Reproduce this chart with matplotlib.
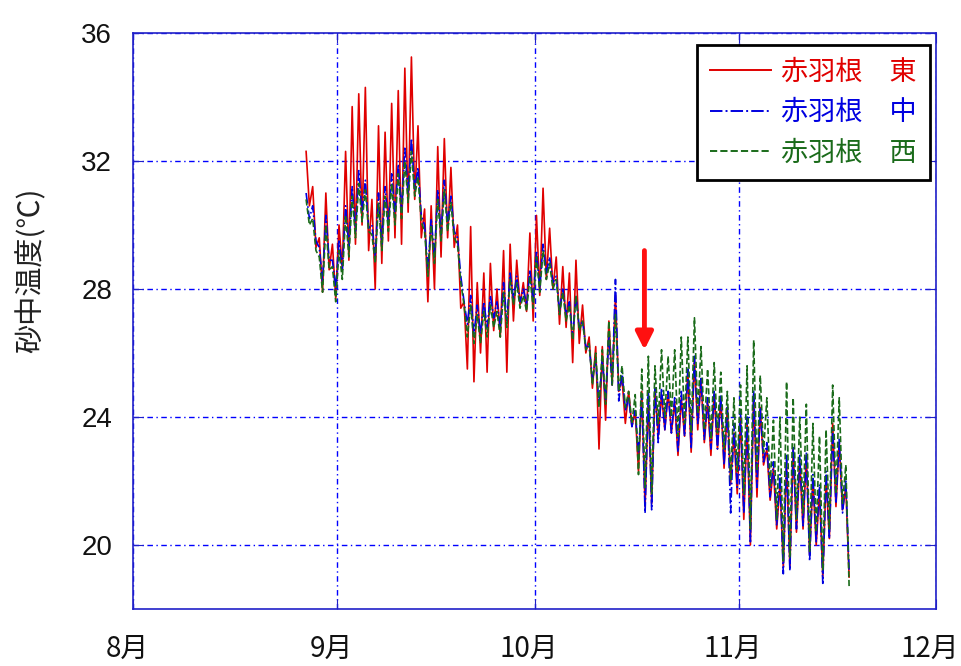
import numpy as np
import matplotlib
matplotlib.use("Agg")
import matplotlib.pyplot as plt
import matplotlib.transforms as mtransforms

# 日数は8月1日を0とする
first_day = 26  # 8/27
month_labels = ["8月", "9月", "10月", "11月", "12月"]
month_days = [0, 31, 61, 92, 122]

# 赤羽根 東 (日最高, 日最低)
east_max = [32.3, 31.2, 29.6, 31.0, 29.4, 30.0, 32.3, 33.7, 34.1, 34.3,
            30.8, 33.1, 32.9, 33.8, 34.2, 34.9, 35.25, 33.1, 30.5, 30.6,
            32.45, 32.7, 31.8, 30.0, 27.6, 29.95, 28.2, 28.5, 28.8, 28.0,
            29.2, 29.4, 28.9, 28.2, 29.75, 30.3, 31.15, 29.9, 29.0, 28.7,
            28.5, 28.9, 27.5, 26.5, 26.2, 26.2, 27.0, 27.8, 25.2, 24.8,
            24.2, 24.8, 24.6, 24.9, 24.7, 24.8, 24.5, 24.6, 25.4, 25.8,
            25.2, 24.5, 24.7, 24.6, 24.3, 23.5, 24.0, 23.8, 24.7, 24.3,
            23.0, 22.4, 21.9, 22.6, 23.0, 22.6, 22.8, 22.0, 21.7, 22.1,
            23.8, 23.2, 21.8]
east_min = [30.6, 29.3, 27.9, 28.6, 27.7, 28.6, 28.9, 29.4, 30.0, 29.2,
            28.0, 28.8, 29.5, 29.6, 29.4, 30.4, 30.8, 29.6, 27.6, 28.0,
            29.0, 29.6, 29.3, 27.4, 25.5, 25.1, 26.0, 25.4, 26.7, 26.5,
            25.4, 27.0, 27.5, 27.3, 27.0, 27.8, 28.3, 28.0, 26.9, 26.8,
            25.7, 26.3, 26.0, 24.9, 23.0, 23.9, 25.0, 24.8, 23.8, 23.7,
            22.3, 21.2, 21.3, 23.4, 23.6, 23.5, 22.8, 23.4, 22.9, 23.6,
            23.2, 22.8, 23.0, 22.4, 21.9, 21.6, 20.8, 20.0, 21.5, 22.5,
            21.4, 20.5, 19.3, 19.3, 20.4, 20.5, 19.7, 20.0, 19.0, 20.2,
            21.2, 21.1, 19.0]

# 赤羽根 中
mid_max = [31.0, 30.6, 29.3, 30.3, 28.9, 29.5, 30.6, 31.2, 31.7, 31.4,
           30.0, 31.0, 31.2, 31.6, 31.9, 32.4, 32.7, 31.8, 30.0, 30.2,
           31.1, 31.4, 30.9, 29.6, 27.6, 27.8, 27.5, 27.6, 27.8, 27.6,
           28.2, 28.5, 28.4, 28.0, 28.6, 29.2, 29.4, 29.0, 28.4, 28.0,
           27.6, 27.8, 27.0, 26.2, 25.8, 25.8, 26.5, 28.3, 25.4, 24.6,
           24.2, 24.7, 24.8, 24.9, 24.9, 24.8, 24.6, 24.8, 25.5, 25.9,
           25.2, 24.6, 24.8, 24.7, 24.3, 23.8, 24.2, 24.0, 24.8, 24.3,
           23.2, 22.6, 22.2, 22.8, 23.1, 22.8, 22.9, 22.2, 21.9, 22.3,
           23.6, 23.3, 22.0]
mid_min = [30.2, 29.5, 28.2, 28.9, 28.0, 28.6, 29.3, 29.8, 30.4, 29.9,
           29.0, 29.4, 30.0, 30.3, 30.4, 31.0, 31.1, 30.3, 28.6, 29.0,
           29.7, 30.0, 29.8, 28.4, 26.9, 26.6, 26.6, 26.8, 27.1, 26.8,
           27.0, 27.7, 27.6, 27.5, 27.6, 28.0, 28.5, 28.2, 27.3, 27.2,
           26.5, 26.8, 26.2, 25.2, 24.4, 24.5, 25.0, 24.5, 24.2, 23.7,
           22.8, 21.0, 21.1, 23.2, 23.6, 23.5, 22.9, 23.4, 23.0, 23.8,
           23.3, 23.0, 23.0, 22.5, 21.0, 21.8, 21.0, 20.1, 21.8, 22.6,
           21.5, 20.6, 19.1, 19.2, 20.5, 20.6, 19.5, 20.1, 18.8, 20.2,
           21.3, 21.0, 19.2]

# 赤羽根 西
west_max = [30.8, 30.2, 29.0, 30.0, 28.7, 29.2, 30.3, 30.9, 31.3, 31.1,
            29.7, 30.7, 30.9, 31.3, 31.6, 32.0, 32.3, 31.5, 29.8, 30.0,
            30.8, 31.1, 30.7, 29.4, 27.5, 27.5, 27.2, 27.3, 27.5, 27.3,
            27.9, 28.3, 28.2, 27.8, 28.4, 29.0, 29.2, 28.8, 28.3, 27.9,
            27.5, 27.8, 27.0, 26.3, 26.0, 26.1, 27.0, 27.2, 25.6, 24.8,
            24.7, 25.5, 25.9, 25.6, 26.1, 25.9, 26.1, 26.5, 26.5, 27.1,
            26.2, 25.5, 25.7, 25.4, 24.8, 24.6, 25.0, 25.6, 26.4, 25.3,
            24.6, 23.9, 24.0, 25.1, 24.6, 24.0, 24.4, 23.8, 23.4, 23.6,
            25.0, 24.6, 22.5]
west_min = [30.0, 29.2, 27.9, 28.6, 27.6, 28.3, 29.0, 29.6, 30.1, 29.8,
            28.8, 29.2, 29.8, 30.0, 30.2, 30.7, 30.9, 30.1, 28.4, 28.8,
            29.5, 29.8, 29.6, 28.2, 26.5, 26.3, 26.3, 26.5, 26.8, 26.5,
            26.8, 27.5, 27.4, 27.3, 27.4, 27.9, 28.3, 28.0, 27.2, 27.0,
            26.4, 26.7, 26.1, 25.0, 24.3, 24.4, 25.0, 24.8, 24.3, 23.8,
            22.2, 21.8, 21.6, 23.8, 24.0, 24.0, 23.4, 23.8, 23.5, 24.1,
            23.6, 23.3, 23.5, 23.0, 22.0, 22.3, 21.6, 20.5, 22.3, 22.9,
            21.8, 20.8, 19.5, 19.6, 20.8, 21.0, 19.8, 20.4, 19.2, 20.5,
            21.6, 21.3, 18.7]

jp = ["Noto Sans CJK JP", "DejaVu Sans"]


def daily_trace(hi, lo):
    # 日最高を午後、日最低を夜間に置いて折れ線にする
    days = first_day + np.arange(len(hi))
    x = np.column_stack([days + 0.3, days + 0.8]).ravel()
    y = np.column_stack([hi, lo]).ravel()
    return x, y


fig = plt.figure(figsize=(9.62, 6.66), dpi=100)
ax = fig.add_axes([133 / 962, 1 - 609 / 666, 803 / 962, 576 / 666])

x, y = daily_trace(east_max, east_min)
ax.plot(x, y, color="#e00000", lw=1.2, ls="-", label="赤羽根　東")
x, y = daily_trace(mid_max, mid_min)
ax.plot(x, y, color="#0000e0", lw=1.2, ls="-.", label="赤羽根　中")
x, y = daily_trace(west_max, west_min)
ax.plot(x, y, color="#1a6b1a", lw=1.2, ls="--", label="赤羽根　西")

ax.annotate("", xy=(77.7, 26.1), xytext=(77.7, 29.2),
            arrowprops=dict(arrowstyle="-|>", color="#ff1010", lw=3.5,
                            mutation_scale=26, shrinkA=0, shrinkB=0))

ax.set_xlim(0, 122)
ax.set_ylim(18, 36)
ax.set_xticks(month_days)
ax.set_xticklabels(month_labels, family=jp, fontsize=20)
ax.set_yticks([20, 24, 28, 32, 36])
ax.set_yticklabels(["20", "24", "28", "32", "36"], family="Liberation Sans", fontsize=20)

ax.grid(True, color="#0000ff", ls=(0, (4, 2.5, 1, 2.5)), lw=1.0)
for s in ax.spines.values():
    s.set_color("#2020c8")
    s.set_linewidth(1.2)
ax.tick_params(direction="in", length=7, color="#2020c8", top=True, right=True,
               labelcolor="#111111")
ax.tick_params(axis="x", pad=18)
ax.tick_params(axis="y", pad=15)

# 月ラベルは目盛りより少し左に寄せる（tick_paramsの後で）
shift = mtransforms.ScaledTranslation(-6 / 100, 0, fig.dpi_scale_trans)
for lab in ax.get_xticklabels():
    lab.set_transform(lab.get_transform() + shift)

ax.set_ylabel("砂中温度(℃)", family=jp, fontsize=21, color="#222222")
ax.yaxis.set_label_coords(-0.108, 0.5885)

leg = ax.legend(loc="upper right", bbox_to_anchor=(930 / 962, 1 - 45 / 666),
                bbox_transform=fig.transFigure, borderaxespad=0,
                prop={"family": jp, "size": 19.5}, labelcolor="linecolor",
                handlelength=2.25, handletextpad=0.35, labelspacing=0.5,
                borderpad=0.5, fancybox=False, framealpha=1)
leg.get_frame().set_edgecolor("black")
leg.get_frame().set_linewidth(2)
for line in leg.get_lines():
    line.set_linewidth(1.4)

fig.savefig("out.png", dpi=100)
